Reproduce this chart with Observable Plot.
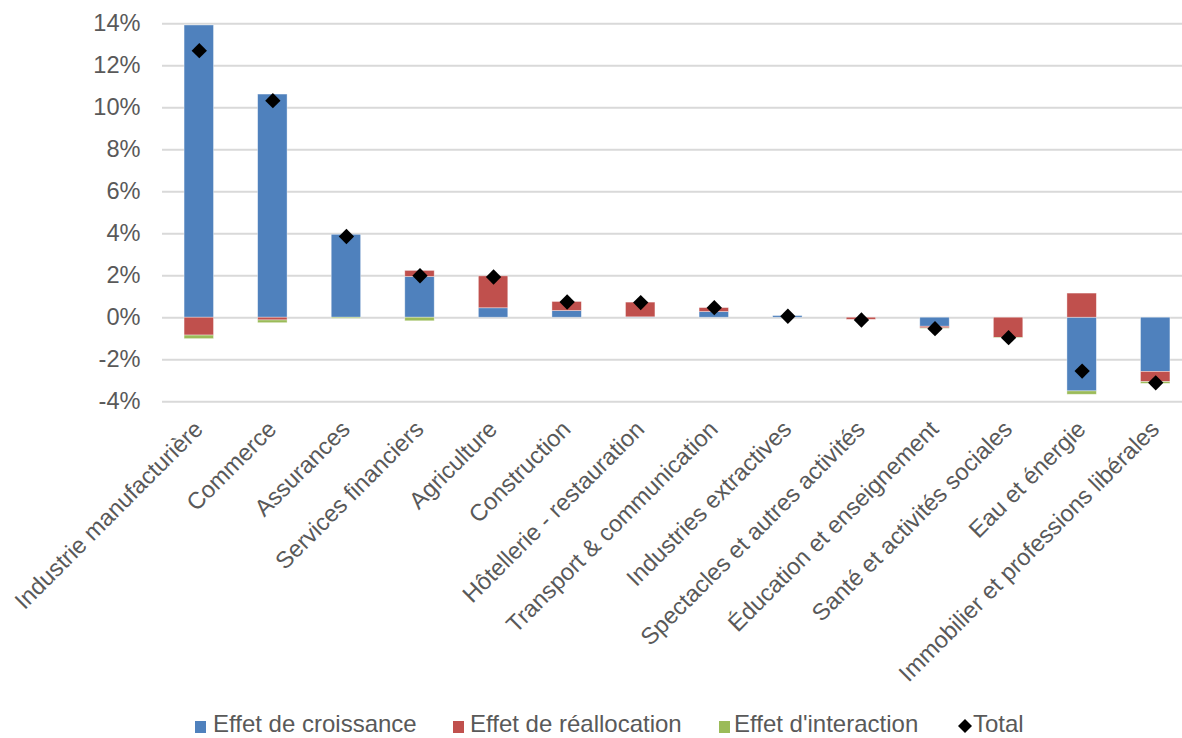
<!DOCTYPE html>
<html>
<head>
<meta charset="utf-8">
<script src="https://cdn.jsdelivr.net/npm/d3@7"></script>
<script src="https://cdn.jsdelivr.net/npm/@observablehq/plot@0.6"></script>
<style>
  body { margin: 0; background: #fff; }
  #wrap { position: relative; width: 1182px; height: 738px; overflow: hidden; font-family: "Liberation Sans", Arial, sans-serif; color: #595959; }
  #wrap svg { position: absolute; left: 0; top: 0; }
  .item { position: absolute; top: 713px; height: 22px; font-size: 24px; line-height: 22px; white-space: nowrap; }
  .swatch { position: absolute; top: 8px; width: 11px; height: 12px; }
  .label { position: absolute; top: 0; }
</style>
</head>
<body>
<div id="wrap"></div>
<script>
// Sectors, ordered by total contribution
const categories = [
  "Industrie manufacturière", "Commerce", "Assurances", "Services financiers",
  "Agriculture", "Construction", "Hôtellerie - restauration", "Transport & communication",
  "Industries extractives", "Spectacles et autres activités", "Éducation et enseignement",
  "Santé et activités sociales", "Eau et énergie", "Immobilier et professions libérales"
];

// Contributions, in percentage points
const croissance   = [13.92, 10.63, 3.95, 1.94, 0.45, 0.32, 0.02, 0.27, 0.08, 0.00, -0.43, 0.00, -3.51, -2.58];
const reallocation = [-0.85, -0.13, 0.00, 0.29, 1.52, 0.43, 0.70, 0.19, 0.00, -0.10, -0.08, -0.96, 1.15, -0.49];
const interaction  = [-0.17, -0.13, -0.05, -0.17, 0.00, 0.00, 0.00, 0.00, 0.00, 0.00, -0.02, -0.03, -0.16, -0.08];
const total        = [12.72, 10.34, 3.87, 2.00, 1.94, 0.75, 0.72, 0.48, 0.07, -0.11, -0.52, -0.95, -2.54, -3.10];

const seriesNames  = ["Effet de croissance", "Effet de réallocation", "Effet d'interaction"];
const seriesColors = ["#4F81BD", "#C0504D", "#9BBB59"];
const yTicks = [-4, -2, 0, 2, 4, 6, 8, 10, 12, 14];

const font = "'Liberation Sans', Arial, sans-serif";
const textColor = "#595959";

// Long-format table for the stacked bars
const rows = [];
[croissance, reallocation, interaction].forEach((vals, s) =>
  vals.forEach((v, i) => rows.push({category: categories[i], series: seriesNames[s], value: v}))
);
const totals = categories.map((c, i) => ({category: c, value: total[i]}));

// Square diamond marker (a square turned 45°)
const diamond = {
  draw(ctx, size) {
    const r = Math.sqrt(size) * 0.62625;
    ctx.moveTo(0, -r); ctx.lineTo(r, 0); ctx.lineTo(0, r); ctx.lineTo(-r, 0); ctx.closePath();
  }
};

const chart = Plot.plot({
  width: 1182,
  height: 738,
  marginLeft: 162,
  marginRight: 0,
  marginTop: 0,
  marginBottom: 0,
  style: {fontFamily: font, fontSize: "23.6px", color: textColor, background: "transparent", overflow: "hidden"},
  x: {domain: categories, range: [162, 1192], paddingInner: 0.6, paddingOuter: 0.3, round: false, axis: null},
  y: {domain: [-4, 14], range: [401.2, 23.3], ticks: yTicks, tickSize: 0, tickPadding: 22,
      tickFormat: d => d + "%", label: null},
  color: {domain: seriesNames, range: seriesColors},
  marks: [
    Plot.ruleY(yTicks, {stroke: "#d9d9d9", strokeWidth: 2}),
    Plot.barY(rows, {x: "category", y: "value", fill: "series",
      stroke: "#fff", strokeWidth: 0.75, strokeOpacity: 0.5}),
    Plot.dot(totals, {x: "category", y: "value", symbol: diamond, r: 6.9, fill: "#000", stroke: "none"}),
    Plot.text(categories, {x: d => d, y: d => -4, text: d => d, rotate: -45,
      textAnchor: "end", lineAnchor: "bottom", dx: 5, dy: 29, fill: textColor, fontSize: 23.6})
  ]
});

const wrap = document.getElementById("wrap");
wrap.appendChild(chart);

// Legend below the plot area
const legendItems = [
  {name: seriesNames[0], color: seriesColors[0], sx: 195, tx: 213, kind: "square"},
  {name: seriesNames[1], color: seriesColors[1], sx: 453, tx: 470, kind: "square"},
  {name: seriesNames[2], color: seriesColors[2], sx: 719, tx: 734, kind: "square"},
  {name: "Total", color: "#000", sx: 958, tx: 973, kind: "diamond"}
];
for (const it of legendItems) {
  const item = document.createElement("div");
  item.className = "item";
  item.style.left = "0px";
  const sw = document.createElement("div");
  sw.className = "swatch";
  sw.style.left = it.sx + "px";
  if (it.kind === "square") {
    sw.style.background = it.color;
  } else {
    sw.style.width = "14px";
    sw.style.height = "14px";
    sw.style.top = "6px";
    sw.innerHTML = '<svg width="14" height="14" viewBox="-7 -7 14 14" style="display:block"><path d="M0,-7L7,0L0,7L-7,0Z" fill="#000"/></svg>';
  }
  const lb = document.createElement("div");
  lb.className = "label";
  lb.style.left = it.tx + "px";
  lb.textContent = it.name;
  item.appendChild(sw);
  item.appendChild(lb);
  wrap.appendChild(item);
}
</script>
</body>
</html>
